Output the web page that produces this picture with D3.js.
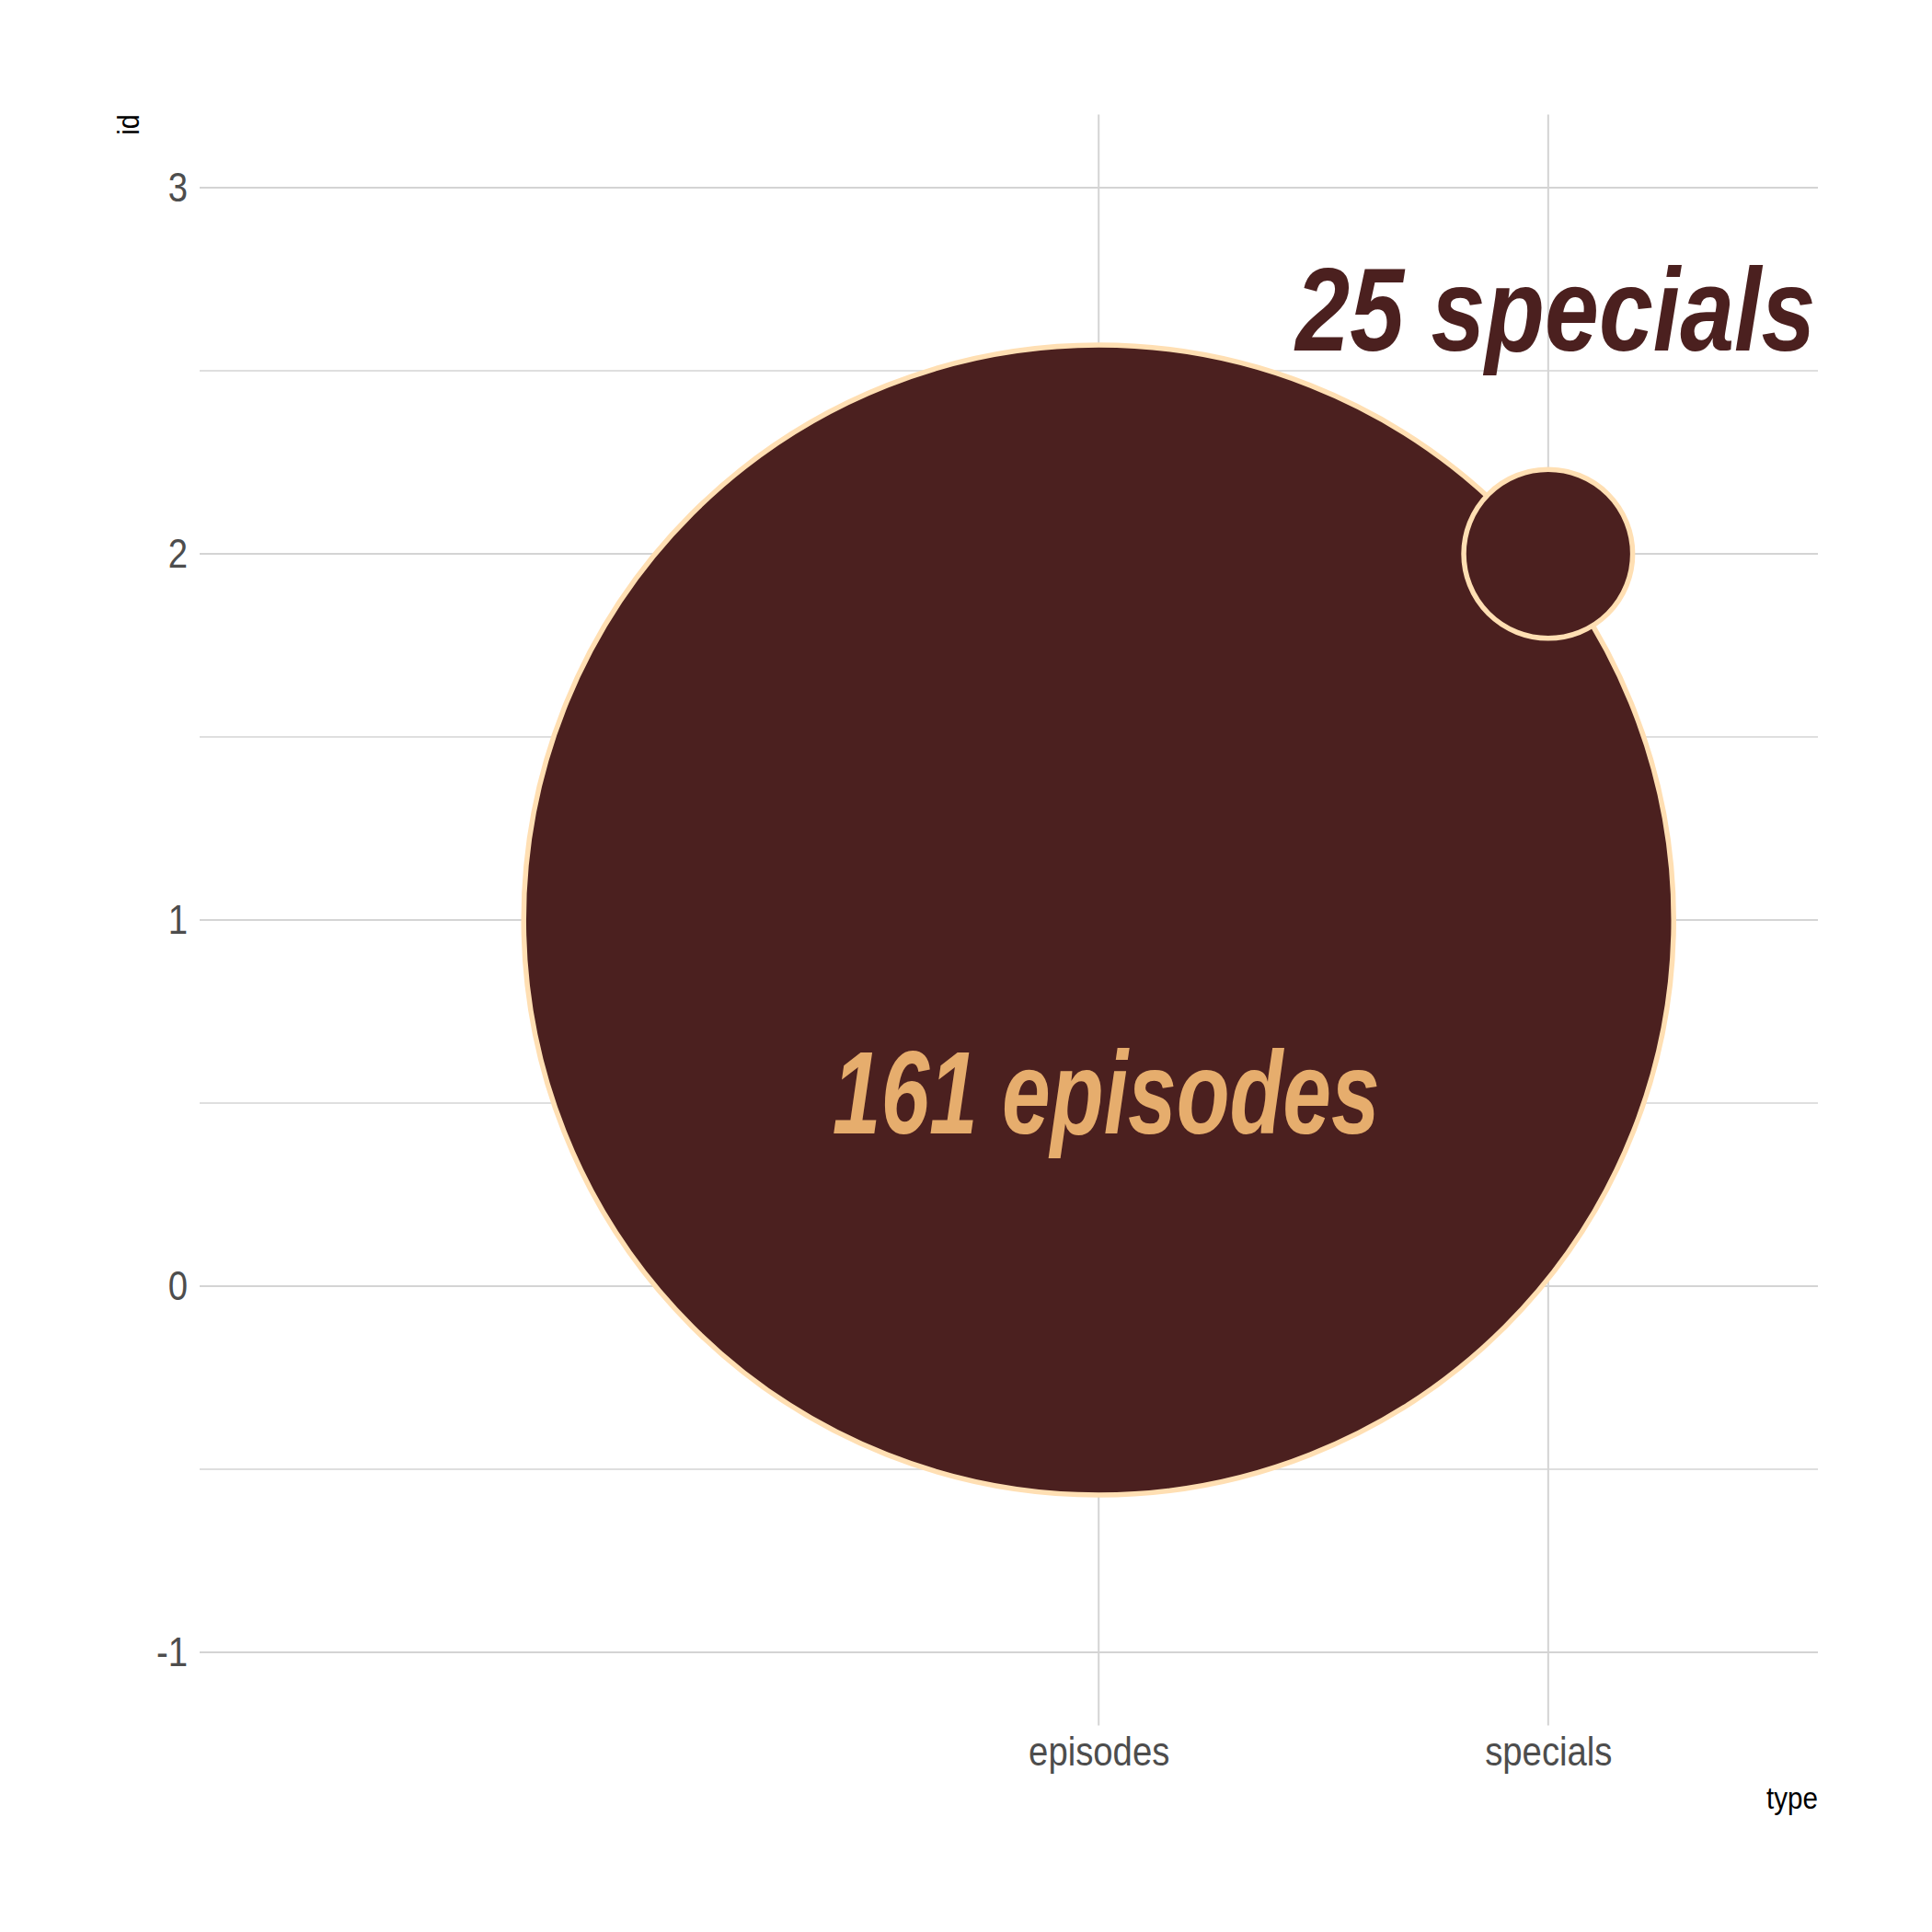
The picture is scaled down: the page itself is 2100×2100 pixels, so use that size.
<!DOCTYPE html>
<html>
<head>
<meta charset="utf-8">
<script src="https://cdn.jsdelivr.net/npm/d3@7"></script>
<style>
    html, body { margin: 0; padding: 0; background: #ffffff; }
    svg { display: block; }
</style>
</head>
<body>
<svg id="chart" width="2100" height="2100"></svg>
<script>
"use strict";

/* global d3, document */

// values
var types = ["episodes", "specials"];
var typePos = [1, 2];
var ids = [1, 2];
var counts = [161, 25];
var labelText = ["161 episodes", "25 specials"];
var labelY = [0.5, 2.64];
var yTicks = [-1, 0, 1, 2, 3];
var yMinorTicks = [-0.5, 0.5, 1.5, 2.5];

var chart = {
    svg: d3.select("#chart"),

    panel: { left: 217, right: 1976, top: 124.4, bottom: 1875.6 },

    font: "'Liberation Sans Narrow', 'Liberation Sans', Arial, sans-serif",

    colors: {
        fill: "#4b201f",
        stroke: "#ffdfb3",
        label: ["#e6ad6d", "#4b201f"],
        grid: "#d4d4d4",
        tick: "#4d4d4d",
        title: "#000000"
    },

    init: function () {
        this.x = d3.scaleLinear().domain([-1, 2.6]).range([this.panel.left, this.panel.right]);
        this.y = d3.scaleLinear().domain([-1.2, 3.2]).range([this.panel.bottom, this.panel.top]);
        this.r = d3.scaleLinear().domain(d3.extent(counts)).range([91.8, 625]);

        this.rows = types.map(function (t, i) {
            return { type: t, pos: typePos[i], id: ids[i], n: counts[i], label: labelText[i], ly: labelY[i] };
        });

        this.drawGrid();
        this.drawCircles();
        this.drawLabels();
        this.drawAxes();
    },

    // narrow look: squeeze the text when no narrow face is installed
    narrow: function (sel) {
        sel.each(function () {
            var len = this.getComputedTextLength();
            d3.select(this)
                .attr("textLength", len * 0.87)
                .attr("lengthAdjust", "spacingAndGlyphs");
        });
    },

    drawGrid: function () {
        var self = this;
        var g = this.svg.append("g").attr("class", "grid");

        g.selectAll(".minor").data(yMinorTicks).join("line")
            .attr("class", "minor")
            .attr("x1", this.panel.left).attr("x2", this.panel.right)
            .attr("y1", function (d) { return self.y(d); })
            .attr("y2", function (d) { return self.y(d); })
            .attr("stroke", this.colors.grid).attr("stroke-width", 1.6);

        g.selectAll(".major-y").data(yTicks).join("line")
            .attr("class", "major-y")
            .attr("x1", this.panel.left).attr("x2", this.panel.right)
            .attr("y1", function (d) { return self.y(d); })
            .attr("y2", function (d) { return self.y(d); })
            .attr("stroke", this.colors.grid).attr("stroke-width", 2);

        g.selectAll(".major-x").data(typePos).join("line")
            .attr("class", "major-x")
            .attr("x1", function (d) { return self.x(d); })
            .attr("x2", function (d) { return self.x(d); })
            .attr("y1", this.panel.top).attr("y2", this.panel.bottom)
            .attr("stroke", this.colors.grid).attr("stroke-width", 2);
    },

    drawCircles: function () {
        var self = this;
        this.svg.append("g").selectAll("circle").data(this.rows).join("circle")
            .attr("cx", function (d) { return self.x(d.pos); })
            .attr("cy", function (d) { return self.y(d.id); })
            .attr("r", function (d) { return self.r(d.n); })
            .attr("fill", this.colors.fill)
            .attr("stroke", this.colors.stroke)
            .attr("stroke-width", 5.5);
    },

    drawLabels: function () {
        var self = this;
        var size = 128;
        this.svg.append("g").selectAll("text").data(this.rows).join("text")
            .attr("x", function (d) { return self.x(d.pos) + 8; })
            .attr("y", function (d) { return self.y(d.ly) + 0.26 * size; })
            .attr("text-anchor", "middle")
            .attr("font-family", this.font)
            .attr("font-style", "italic")
            .attr("font-weight", "bold")
            .attr("font-size", size)
            .attr("textLength", function (d, i) { return i === 0 ? 595 : 565; })
            .attr("lengthAdjust", "spacingAndGlyphs")
            .attr("fill", function (d, i) { return self.colors.label[i]; })
            .text(function (d) { return d.label; });
    },

    drawAxes: function () {
        var self = this;

        var yAxis = this.svg.append("g")
            .attr("transform", "translate(" + this.panel.left + ",0)")
            .call(d3.axisLeft(this.y).tickValues(yTicks).tickSize(0).tickPadding(13)
                .tickFormat(function (d) { return String(d); }));

        var xAxis = this.svg.append("g")
            .attr("transform", "translate(0," + this.panel.bottom + ")")
            .call(d3.axisBottom(this.x).tickValues(typePos).tickSize(0).tickPadding(12)
                .tickFormat(function (d) { return types[typePos.indexOf(d)]; }));

        [yAxis, xAxis].forEach(function (a) {
            a.select(".domain").remove();
            a.selectAll("text")
                .attr("font-family", self.font)
                .attr("font-size", 44)
                .attr("fill", self.colors.tick)
                .call(self.narrow);
        });

        this.svg.append("text")
            .attr("x", this.panel.right)
            .attr("y", 1966)
            .attr("text-anchor", "end")
            .attr("font-family", this.font)
            .attr("font-size", 34)
            .attr("fill", this.colors.title)
            .text("type")
            .call(this.narrow);

        this.svg.append("text")
            .attr("transform", "translate(151," + this.panel.top + ") rotate(-90)")
            .attr("text-anchor", "end")
            .attr("font-family", this.font)
            .attr("font-size", 33)
            .attr("fill", this.colors.title)
            .text("id")
            .call(this.narrow);
    }
};

chart.init();
</script>
</body>
</html>
